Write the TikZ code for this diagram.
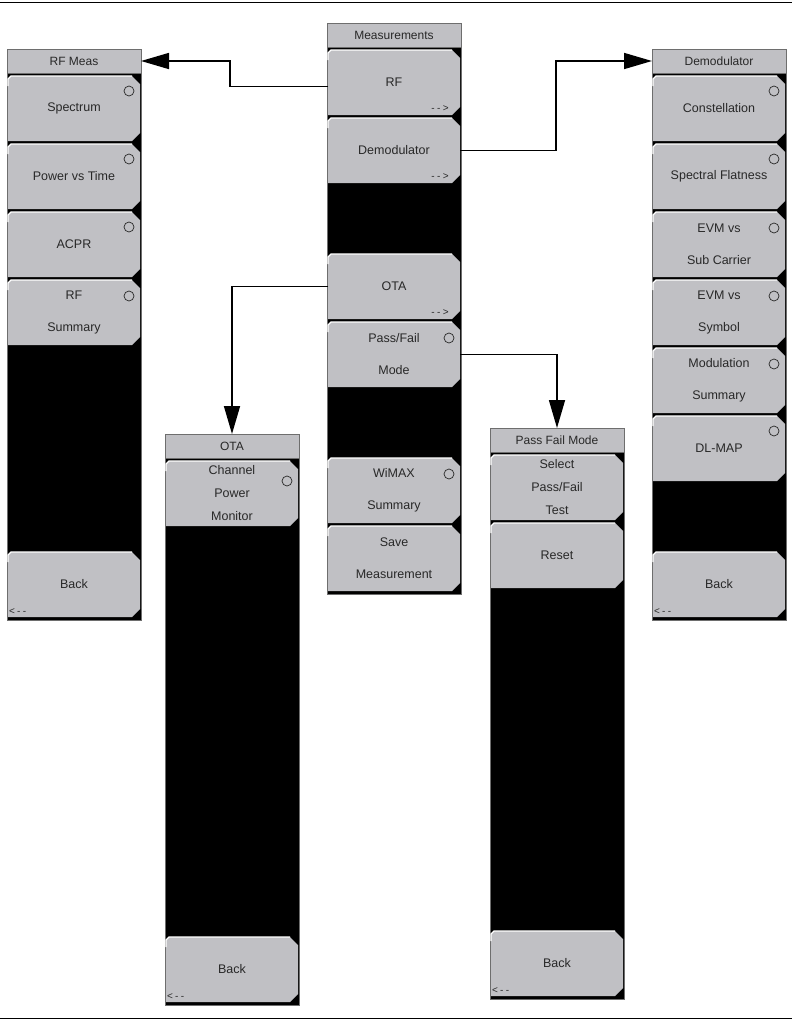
\documentclass[tikz,border=0pt]{standalone}
\usepackage{fontspec}
\setmainfont{Liberation Sans}
\usetikzlibrary{arrows.meta}
\definecolor{keygray}{RGB}{192,192,196}
\definecolor{keytext}{RGB}{40,40,40}
\definecolor{keyedge}{RGB}{110,110,110}
\newcommand{\keyfont}{\fontsize{12.5}{32}\selectfont}

\tikzset{
  panel/.style={draw=keyedge, fill=black, minimum width=134pt, minimum height=571pt,
                inner sep=0pt, outer sep=0pt, anchor=north west},
  title/.style={draw=keyedge, fill=keygray, text=keytext, minimum width=134pt,
                minimum height=24pt, inner sep=0pt, outer sep=0pt, anchor=north west,
                font=\fontsize{12}{14}\selectfont},
  softkey/.style={text=keytext, minimum width=132pt, minimum height=65pt,
                inner sep=0pt, outer sep=0pt, anchor=north west, align=center, font=\keyfont},
  radio/.style={draw=keytext, line width=0.7pt},
  hint/.style={text=keytext, font=\fontsize{10}{10}\selectfont, inner sep=0pt},
  link/.style={line width=1.6pt, -{Triangle[length=28pt,width=16pt]}}
}

% menu panel: name, x, y, title
\newcommand{\menupanel}[4]{
  \node[panel] (#1) at (#2,#3) {};
  \node[title] (#1-title) at (#2,#3) {#4};
}
% soft key: [options] menu, slot, name, label
\newcommand{\keybtn}[5][]{
  \coordinate (#4-nw) at ([xshift=1pt,yshift={-27pt-#3*68pt}]#2.north west);
  \fill[keygray] (#4-nw) ++(0,3) -- ++(3,-3) -- ++(121,0) -- ++(8,8) -- ++(0,49)
    -- ++(-8,8) -- ++(-124,0) -- cycle;
  \draw[white, line width=1.2pt] (#4-nw) ++(0,10) -- ++(0,-7) -- ++(3,-3) -- ++(121,0);
  \node[softkey,#1] (#4) at (#4-nw) {#5};
}
\newcommand{\radio}[2]{\draw[radio] ([xshift=121pt,yshift=-#2pt]#1.north west) circle (5pt);}
\newcommand{\more}[1]{\node[hint, anchor=south east] at ([xshift=121pt,yshift=3pt]#1.south west)
  {-\hspace{2.5pt}-\hspace{2.5pt}>};}
\newcommand{\back}[1]{\node[hint, anchor=south west] at ([xshift=1pt,yshift=2pt]#1.south west)
  {<\hspace{2pt}-\hspace{2.5pt}-};}

\begin{document}
\begin{tikzpicture}[x=1pt, y=-1pt]
\useasboundingbox (0,0) rectangle (792,1020);
\draw[line width=1pt] (0,2) -- (792,2);
\draw[line width=1pt] (0,1018) -- (792,1018);

% Measurements
\menupanel{meas}{327}{23}{Measurements}
\keybtn{meas}{0}{meas-rf}{RF} \more{meas-rf}
\keybtn{meas}{1}{meas-demod}{Demodulator} \more{meas-demod}
\keybtn{meas}{3}{meas-ota}{OTA} \more{meas-ota}
\keybtn{meas}{4}{meas-pf}{Pass/Fail\\Mode} \radio{meas-pf}{16}
\keybtn{meas}{6}{meas-wimax}{WiMAX\\Summary} \radio{meas-wimax}{16}
\keybtn{meas}{7}{meas-save}{Save\\Measurement}

% RF Meas
\menupanel{rfmeas}{7}{49}{RF Meas}
\keybtn{rfmeas}{0}{rfmeas-spectrum}{Spectrum} \radio{rfmeas-spectrum}{15}
\keybtn{rfmeas}{1}{rfmeas-pvt}{Power vs Time} \radio{rfmeas-pvt}{15}
\keybtn{rfmeas}{2}{rfmeas-acpr}{ACPR} \radio{rfmeas-acpr}{15}
\keybtn{rfmeas}{3}{rfmeas-summary}{RF\\Summary} \radio{rfmeas-summary}{16}
\keybtn{rfmeas}{7}{rfmeas-back}{Back} \back{rfmeas-back}

% Demodulator
\menupanel{demod}{652}{49}{Demodulator}
\keybtn{demod}{0}{demod-const}{Constellation} \radio{demod-const}{15}
\keybtn{demod}{1}{demod-flat}{Spectral Flatness} \radio{demod-flat}{15}
\keybtn{demod}{2}{demod-evmsc}{EVM vs\\Sub Carrier} \radio{demod-evmsc}{16}
\keybtn{demod}{3}{demod-evmsym}{EVM vs\\Symbol} \radio{demod-evmsym}{16}
\keybtn{demod}{4}{demod-mod}{Modulation\\Summary} \radio{demod-mod}{16}
\keybtn{demod}{5}{demod-dlmap}{DL-MAP} \radio{demod-dlmap}{15}
\keybtn{demod}{7}{demod-back}{Back} \back{demod-back}

% OTA
\menupanel{ota}{165}{434}{OTA}
\keybtn[font=\fontsize{12.5}{23}\selectfont]{ota}{0}{ota-cpm}{Channel\\Power\\Monitor} \radio{ota-cpm}{20}
\keybtn{ota}{7}{ota-back}{Back} \back{ota-back}

% Pass Fail Mode
\menupanel{pfm}{490}{428}{Pass Fail Mode}
\keybtn[font=\fontsize{12.5}{23}\selectfont]{pfm}{0}{pfm-select}{Select\\Pass/Fail\\Test}
\keybtn{pfm}{1}{pfm-reset}{Reset}
\keybtn{pfm}{7}{pfm-back}{Back} \back{pfm-back}

% connectors
\draw[link] ([yshift=-4pt]meas-rf.west) -| ([xshift=89pt]rfmeas-title.east) -- (rfmeas-title.east);
\draw[link] (meas-demod.east) -| ([xshift=-96pt]demod-title.west) -- (demod-title.west);
\draw[link] (meas-ota.west) -| (ota-title.north);
\draw[link] (meas-pf.east) -| (pfm-title.north);
\end{tikzpicture}
\end{document}
